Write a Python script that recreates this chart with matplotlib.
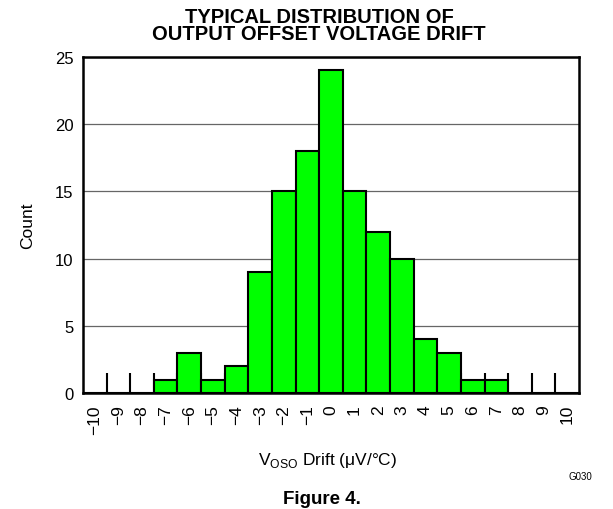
import matplotlib
matplotlib.use("Agg")
import matplotlib.pyplot as plt
import numpy as np

plt.rcParams["font.family"] = ["Liberation Sans", "DejaVu Sans"]

drift = list(range(-10, 11))
counts = [0, 0, 0, 1, 3, 1, 2, 9, 15, 18, 24, 15, 12, 10, 4, 3, 1, 1, 0, 0, 0]
tick_labels = [str(v).replace("-", "\u2212") for v in drift]

fig = plt.figure(figsize=(6.13, 5.10), dpi=100)
ax = fig.add_axes([83 / 613, 1 - 394 / 510, 496 / 613, 336 / 510])

ax.bar(drift, counts, width=1.0, color="#00ff00", edgecolor="black", linewidth=1.5, zorder=3)

ax.set_xlim(-10.5, 10.5)
ax.set_ylim(0, 25)
ax.set_yticks(np.arange(0, 26, 5))
ax.set_xticks(drift, labels=tick_labels, rotation=90)
ax.set_xticks(np.arange(-9.5, 10, 1.0), minor=True)
ax.tick_params(axis="x", which="major", length=0, pad=8, labelsize=12.5)
ax.tick_params(axis="x", which="minor", direction="in", length=14.5, width=1.5, color="black")
ax.tick_params(axis="y", length=0, pad=7, labelsize=12)
ax.grid(axis="y", color="#666666", linewidth=0.9, zorder=0)
ax.set_axisbelow(True)
for s in ax.spines.values():
    s.set_linewidth(1.8)

ax.set_ylabel("Count", fontsize=12.5, labelpad=14)

fig.text(319 / 613, 1 - 8 / 510, "TYPICAL DISTRIBUTION OF\nOUTPUT OFFSET VOLTAGE DRIFT",
         ha="center", va="top", fontsize=14.5, fontweight="bold", linespacing=0.9)
fig.text(328 / 613, 1 - 465 / 510, r"V$_\mathregular{OSO}$ Drift (μV/°C)",
         ha="center", va="baseline", fontsize=12.5)
fig.text(580 / 613, 1 - 480 / 510, "G030", ha="center", va="baseline", fontsize=7)
fig.text(322 / 613, 1 - 504 / 510, "Figure 4.", ha="center", va="baseline",
         fontsize=13.5, fontweight="bold")

fig.savefig("out.png", dpi=100)
